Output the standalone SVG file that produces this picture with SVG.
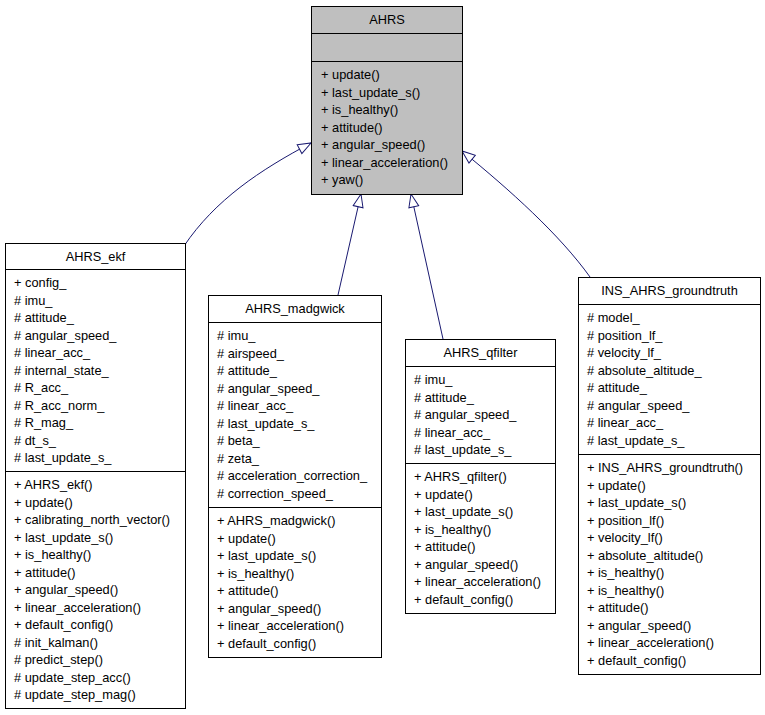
<svg xmlns="http://www.w3.org/2000/svg" width="765" height="715" viewBox="0 0 765 715">
<style>
.box{fill:#ffffff;stroke:#000000;stroke-width:1}
.base{fill:#bfbfbf;stroke:#000000;stroke-width:1}
.sep{stroke:#000000;stroke-width:1}
text{font-family:"Liberation Sans",Arial,Helvetica,sans-serif;font-size:12.8px;fill:#000000}
.t{text-anchor:middle}
.edge{fill:none;stroke:#191970;stroke-width:1}
</style>
<defs>
<marker id="inh" markerUnits="userSpaceOnUse" markerWidth="16" markerHeight="12" refX="14" refY="6" orient="auto">
<path d="M1,1 L14,6 L1,11 Z" fill="#ffffff" stroke="#191970" stroke-width="1"/>
</marker>
</defs>
<rect width="765" height="715" fill="#ffffff"/>
<g id="connectors">
<path class="edge" d="M184,246 C215,200 260,170 311,143" marker-end="url(#inh)"/>
<path class="edge" d="M338,295 L361,194" marker-end="url(#inh)"/>
<path class="edge" d="M443,339 L411,194" marker-end="url(#inh)"/>
<path class="edge" d="M590,277 C560,235 510,190 462,151" marker-end="url(#inh)"/>
</g>
<g id="AHRS">
<rect class="base" x="311.5" y="6.5" width="151" height="188"/>
<line class="sep" x1="311.5" y1="33.5" x2="462.5" y2="33.5"/>
<line class="sep" x1="311.5" y1="61.5" x2="462.5" y2="61.5"/>
<text class="t" x="387" y="24">AHRS</text>
<text x="321" y="79">+ update()</text>
<text x="321" y="96.5">+ last_update_s()</text>
<text x="321" y="114">+ is_healthy()</text>
<text x="321" y="131.5">+ attitude()</text>
<text x="321" y="149">+ angular_speed()</text>
<text x="321" y="166.5">+ linear_acceleration()</text>
<text x="321" y="184">+ yaw()</text>
</g>
<g id="AHRS_ekf">
<rect class="box" x="5.5" y="243.5" width="180" height="465"/>
<line class="sep" x1="5.5" y1="269.5" x2="185.5" y2="269.5"/>
<line class="sep" x1="5.5" y1="471.5" x2="185.5" y2="471.5"/>
<text class="t" x="95.5" y="261">AHRS_ekf</text>
<text x="14" y="287">+ config_</text>
<text x="14" y="304.5"># imu_</text>
<text x="14" y="322"># attitude_</text>
<text x="14" y="339.5"># angular_speed_</text>
<text x="14" y="357"># linear_acc_</text>
<text x="14" y="374.5"># internal_state_</text>
<text x="14" y="392"># R_acc_</text>
<text x="14" y="409.5"># R_acc_norm_</text>
<text x="14" y="427"># R_mag_</text>
<text x="14" y="444.5"># dt_s_</text>
<text x="14" y="462"># last_update_s_</text>
<text x="14" y="489">+ AHRS_ekf()</text>
<text x="14" y="506.5">+ update()</text>
<text x="14" y="524">+ calibrating_north_vector()</text>
<text x="14" y="541.5">+ last_update_s()</text>
<text x="14" y="559">+ is_healthy()</text>
<text x="14" y="576.5">+ attitude()</text>
<text x="14" y="594">+ angular_speed()</text>
<text x="14" y="611.5">+ linear_acceleration()</text>
<text x="14" y="629">+ default_config()</text>
<text x="14" y="646.5"># init_kalman()</text>
<text x="14" y="664"># predict_step()</text>
<text x="14" y="681.5"># update_step_acc()</text>
<text x="14" y="699"># update_step_mag()</text>
</g>
<g id="AHRS_madgwick">
<rect class="box" x="208.5" y="295.5" width="173" height="362"/>
<line class="sep" x1="208.5" y1="322.5" x2="381.5" y2="322.5"/>
<line class="sep" x1="208.5" y1="507.5" x2="381.5" y2="507.5"/>
<text class="t" x="295" y="313">AHRS_madgwick</text>
<text x="217" y="340"># imu_</text>
<text x="217" y="357.5"># airspeed_</text>
<text x="217" y="375"># attitude_</text>
<text x="217" y="392.5"># angular_speed_</text>
<text x="217" y="410"># linear_acc_</text>
<text x="217" y="427.5"># last_update_s_</text>
<text x="217" y="445"># beta_</text>
<text x="217" y="462.5"># zeta_</text>
<text x="217" y="480"># acceleration_correction_</text>
<text x="217" y="497.5"># correction_speed_</text>
<text x="217" y="525">+ AHRS_madgwick()</text>
<text x="217" y="542.5">+ update()</text>
<text x="217" y="560">+ last_update_s()</text>
<text x="217" y="577.5">+ is_healthy()</text>
<text x="217" y="595">+ attitude()</text>
<text x="217" y="612.5">+ angular_speed()</text>
<text x="217" y="630">+ linear_acceleration()</text>
<text x="217" y="647.5">+ default_config()</text>
</g>
<g id="AHRS_qfilter">
<rect class="box" x="405.5" y="339.5" width="150" height="274"/>
<line class="sep" x1="405.5" y1="366.5" x2="555.5" y2="366.5"/>
<line class="sep" x1="405.5" y1="463.5" x2="555.5" y2="463.5"/>
<text class="t" x="480.5" y="357">AHRS_qfilter</text>
<text x="414" y="384"># imu_</text>
<text x="414" y="401.5"># attitude_</text>
<text x="414" y="419"># angular_speed_</text>
<text x="414" y="436.5"># linear_acc_</text>
<text x="414" y="454"># last_update_s_</text>
<text x="414" y="481">+ AHRS_qfilter()</text>
<text x="414" y="498.5">+ update()</text>
<text x="414" y="516">+ last_update_s()</text>
<text x="414" y="533.5">+ is_healthy()</text>
<text x="414" y="551">+ attitude()</text>
<text x="414" y="568.5">+ angular_speed()</text>
<text x="414" y="586">+ linear_acceleration()</text>
<text x="414" y="603.5">+ default_config()</text>
</g>
<g id="INS_AHRS_groundtruth">
<rect class="box" x="578.5" y="277.5" width="182" height="397"/>
<line class="sep" x1="578.5" y1="304.5" x2="760.5" y2="304.5"/>
<line class="sep" x1="578.5" y1="454.5" x2="760.5" y2="454.5"/>
<text class="t" x="669.5" y="295">INS_AHRS_groundtruth</text>
<text x="587" y="322"># model_</text>
<text x="587" y="339.5"># position_lf_</text>
<text x="587" y="357"># velocity_lf_</text>
<text x="587" y="374.5"># absolute_altitude_</text>
<text x="587" y="392"># attitude_</text>
<text x="587" y="409.5"># angular_speed_</text>
<text x="587" y="427"># linear_acc_</text>
<text x="587" y="444.5"># last_update_s_</text>
<text x="587" y="472">+ INS_AHRS_groundtruth()</text>
<text x="587" y="489.5">+ update()</text>
<text x="587" y="507">+ last_update_s()</text>
<text x="587" y="524.5">+ position_lf()</text>
<text x="587" y="542">+ velocity_lf()</text>
<text x="587" y="559.5">+ absolute_altitude()</text>
<text x="587" y="577">+ is_healthy()</text>
<text x="587" y="594.5">+ is_healthy()</text>
<text x="587" y="612">+ attitude()</text>
<text x="587" y="629.5">+ angular_speed()</text>
<text x="587" y="647">+ linear_acceleration()</text>
<text x="587" y="664.5">+ default_config()</text>
</g>
</svg>
